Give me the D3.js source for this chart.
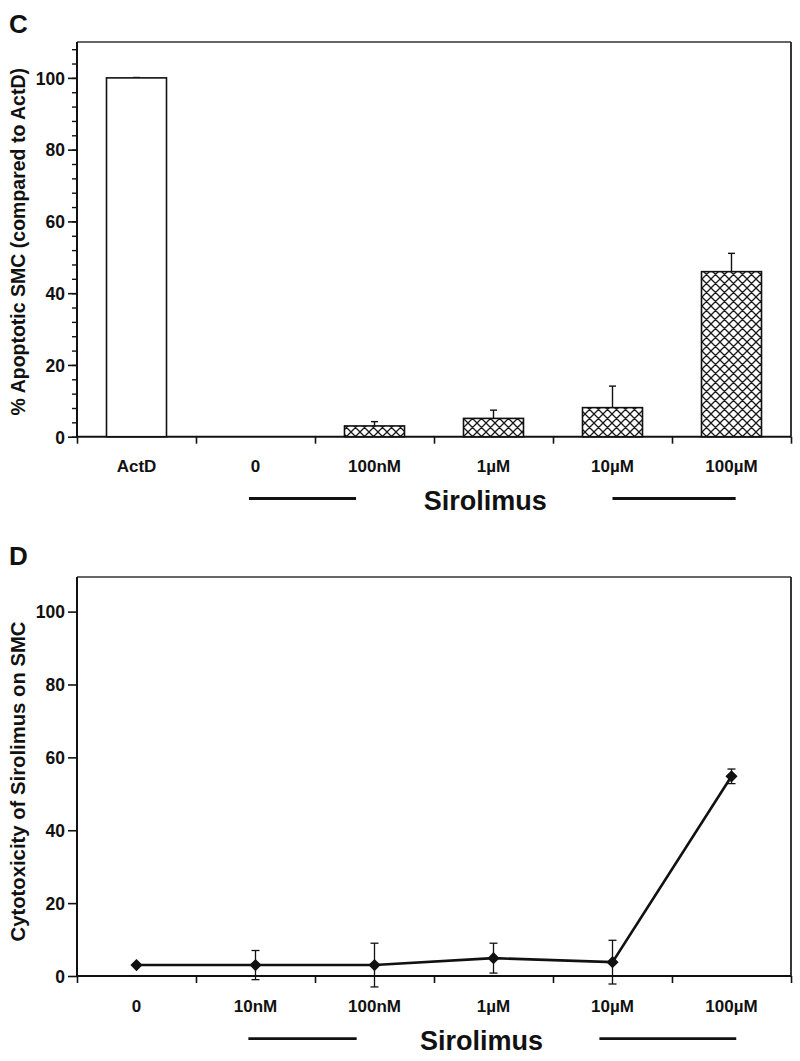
<!DOCTYPE html>
<html>
<head>
<meta charset="utf-8">
<script src="https://cdn.jsdelivr.net/npm/d3@7"></script>
<style>
  html, body { margin: 0; padding: 0; background: #fff; }
  svg { display: block; }
  text { font-family: "Liberation Sans", Arial, Helvetica, sans-serif; font-weight: bold; fill: #111; }
</style>
</head>
<body>
<svg id="chart" width="800" height="1061"></svg>
<script>
// ---------- Data ----------
const categoriesC = ["ActD", "0", "100nM", "1µM", "10µM", "100µM"];
const valuesC     = [100, 0, 3.0, 5.1, 8.1, 46.0];
const errorsC     = [0.1, 0, 1.2, 2.3, 6.0, 5.1];
const hatchedC    = [false, true, true, true, true, true];

const categoriesD = ["0", "10nM", "100nM", "1µM", "10µM", "100µM"];
const valuesD     = [3.0, 3.0, 3.0, 4.9, 3.8, 54.8];
const errorsD     = [0, 4.0, 6.0, 4.1, 6.0, 2.0];

const yTicks = [0, 20, 40, 60, 80, 100];
const yMinorTicksC = d3.range(0, 110, 4);

const yLabelC = "% Apoptotic SMC (compared to ActD)";
const yLabelD = "Cytotoxicity of Sirolimus on SMC";
const groupLabel = "Sirolimus";

// ---------- Setup ----------
const svg = d3.select("#chart");
const ink = "#111";

const defs = svg.append("defs");
const pat = defs.append("pattern")
  .attr("id", "hatch").attr("patternUnits", "userSpaceOnUse")
  .attr("width", 9).attr("height", 9);
pat.append("rect").attr("width", 9).attr("height", 9).attr("fill", "#fff");
pat.append("path")
  .attr("d", "M0,0L9,9M9,0L0,9M-1,8L1,10M8,-1L10,1M-1,1L1,-1M8,10L10,8")
  .attr("stroke", "#1a1a1a").attr("stroke-width", 1.3);

function frame(g, x0, x1, yTop, yBot) {
  // top & right frame lines
  g.append("line").attr("x1", x0).attr("x2", x1).attr("y1", yTop).attr("y2", yTop)
    .attr("stroke", "#333").attr("stroke-width", 1.6);
  g.append("line").attr("x1", x1).attr("x2", x1).attr("y1", yTop).attr("y2", yBot)
    .attr("stroke", "#222").attr("stroke-width", 1.8);
}

function panel(opts) {
  const { cats, top, bottom, yMax, minor, label, letterY, yLabel, yLabelY,
          groupY, groupX, linesY, leftLine, rightLine } = opts;
  const left = 77, right = 791;
  const g = svg.append("g");

  const x = d3.scaleBand().domain(cats).range([left, right]).paddingInner(0).paddingOuter(0);
  const xi = d3.scaleLinear().domain([0, cats.length]).range([left, right]);
  const y = d3.scaleLinear().domain([0, yMax]).range([bottom, top]);

  frame(g, left, right, top, bottom);

  // minor ticks
  if (minor) {
    const ma = g.append("g").attr("transform", `translate(${left},0)`)
      .call(d3.axisLeft(y).tickValues(minor).tickSize(5).tickFormat(""));
    ma.select(".domain").remove();
    ma.selectAll("line").attr("stroke", ink).attr("stroke-width", 1.4);
  }
  // major y axis
  const ya = g.append("g").attr("transform", `translate(${left},0)`)
    .call(d3.axisLeft(y).tickValues(yTicks).tickSize(9).tickPadding(3).tickSizeOuter(0));
  ya.select(".domain").attr("d", `M0,${top}V${bottom}`).attr("stroke", ink).attr("stroke-width", 2);
  ya.selectAll(".tick line").attr("stroke", ink).attr("stroke-width", 1.6);
  ya.selectAll(".tick text").style("font-size", "17.5px").attr("fill", ink)
    .attr("font-family", null).attr("dy", "0.36em");

  // x axis boundary ticks
  const xa = g.append("g").attr("transform", `translate(0,${bottom})`)
    .call(d3.axisBottom(xi).tickValues(d3.range(0, cats.length + 1)).tickSize(7).tickFormat("").tickSizeOuter(0));
  xa.select(".domain").attr("d", `M${left},0H${right}`).attr("stroke", ink).attr("stroke-width", 2);
  xa.selectAll(".tick line").attr("stroke", ink).attr("stroke-width", 1.6);

  // x category labels
  const xl = g.append("g").attr("transform", `translate(0,${bottom})`)
    .call(d3.axisBottom(x).tickSize(0).tickPadding(23.5));
  xl.select(".domain").remove();
  xl.selectAll(".tick text").style("font-size", "17px").attr("fill", ink).attr("font-family", null);

  // panel letter
  g.append("text").attr("x", 9).attr("y", letterY).style("font-size", "26px").text(label);

  // y label
  g.append("text")
    .attr("transform", `translate(${opts.yLabelX},${yLabelY}) rotate(-90)`)
    .attr("text-anchor", "middle").style("font-size", opts.yLabelSize + "px").text(yLabel);

  // group lines & label
  g.append("line").attr("x1", xi(leftLine[0])).attr("x2", xi(leftLine[1]))
    .attr("y1", linesY).attr("y2", linesY).attr("stroke", ink).attr("stroke-width", 2.8);
  g.append("line").attr("x1", xi(rightLine[0])).attr("x2", xi(rightLine[1]))
    .attr("y1", linesY).attr("y2", linesY).attr("stroke", ink).attr("stroke-width", 2.8);
  g.append("text").attr("x", xi(groupX)).attr("y", groupY).attr("text-anchor", "middle")
    .style("font-size", "27px").text(groupLabel);

  return { g, x, y };
}

// ---------- Panel C ----------
const C = panel({
  cats: categoriesC, top: 42, bottom: 436.7, yMax: 110, minor: yMinorTicksC,
  label: "C", letterY: 33, yLabel: yLabelC, yLabelX: 24.5, yLabelY: 241.7, yLabelSize: 19.5,
  groupY: 510, groupX: 3.43, linesY: 498.5, leftLine: [1.445, 2.345], rightLine: [4.5, 5.535]
});
const barW = 60;
const dataC = categoriesC.map((c, i) => ({ c, v: valuesC[i], e: errorsC[i], h: hatchedC[i] }));
// error bars (upper)
dataC.filter(d => d.v > 0).forEach(d => {
  const cx = C.x(d.c) + C.x.bandwidth() / 2;
  C.g.append("line").attr("x1", cx).attr("x2", cx).attr("y1", C.y(d.v)).attr("y2", C.y(d.v + d.e))
    .attr("stroke", ink).attr("stroke-width", 1.4);
  C.g.append("line").attr("x1", cx - 3.5).attr("x2", cx + 3.5).attr("y1", C.y(d.v + d.e)).attr("y2", C.y(d.v + d.e))
    .attr("stroke", ink).attr("stroke-width", 1.4);
});
C.g.selectAll("rect.bar").data(dataC.filter(d => d.v > 0)).join("rect")
  .attr("class", "bar")
  .attr("x", d => C.x(d.c) + C.x.bandwidth() / 2 - barW / 2)
  .attr("width", barW)
  .attr("y", d => C.y(d.v))
  .attr("height", d => C.y(0) - C.y(d.v))
  .attr("fill", d => d.h ? "url(#hatch)" : "#fff")
  .attr("stroke", ink).attr("stroke-width", 1.6);

// ---------- Panel D ----------
const D = panel({
  cats: categoriesD, top: 577, bottom: 976, yMax: 109.5, minor: null,
  label: "D", letterY: 565, yLabel: yLabelD, yLabelX: 24.5, yLabelY: 781.5, yLabelSize: 20.3,
  groupY: 1049.5, groupX: 3.40, linesY: 1038.7, leftLine: [1.44, 2.35], rightLine: [4.39, 5.54]
});
const dataD = categoriesD.map((c, i) => ({ c, v: valuesD[i], e: errorsD[i] }));
const cxD = d => D.x(d.c) + D.x.bandwidth() / 2;
dataD.filter(d => d.e > 0).forEach(d => {
  const cx = cxD(d);
  D.g.append("line").attr("x1", cx).attr("x2", cx).attr("y1", D.y(d.v - d.e)).attr("y2", D.y(d.v + d.e))
    .attr("stroke", ink).attr("stroke-width", 1.3);
  [d.v - d.e, d.v + d.e].forEach(t => {
    D.g.append("line").attr("x1", cx - 4).attr("x2", cx + 4).attr("y1", D.y(t)).attr("y2", D.y(t))
      .attr("stroke", ink).attr("stroke-width", 1.3);
  });
});
D.g.append("path").datum(dataD)
  .attr("d", d3.line().x(cxD).y(d => D.y(d.v)))
  .attr("fill", "none").attr("stroke", ink).attr("stroke-width", 2.6);
D.g.selectAll("path.pt").data(dataD).join("path")
  .attr("class", "pt")
  .attr("transform", d => `translate(${cxD(d)},${D.y(d.v)}) rotate(45)`)
  .attr("d", d3.symbol().type(d3.symbolSquare).size(74))
  .attr("fill", ink);
</script>
</body>
</html>
